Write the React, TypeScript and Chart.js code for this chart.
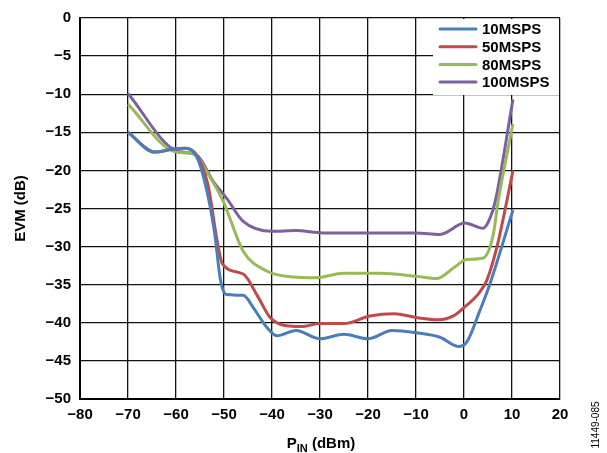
import React, { useEffect, useRef } from "react";
import { Chart, registerables } from "chart.js";

Chart.register(...registerables);

const seriesLabels = ["10MSPS", "50MSPS", "80MSPS", "100MSPS"];
const seriesColors = ["#4a7ebb", "#be4b48", "#98b954", "#7d60a0"];

const x10 = [-70, -64.4, -60.6, -58, -55.7, -54, -52, -50.7, -49.5, -46, -43.9, -41.1, -39, -35, -30, -25, -20, -15, -10, -5, -1.2, 0.6, 3.3, 5.4, 10.2];
const y10 = [-15, -17.6, -17.2, -17.1, -18.2, -21.5, -28, -34.5, -36.3, -36.4, -38, -40.6, -41.7, -41, -42.1, -41.5, -42.1, -41, -41.3, -41.9, -43.1, -42.5, -38.4, -34.9, -25.2];

const x50 = [-70, -64.4, -60.6, -58, -55.7, -53.3, -51.5, -50.3, -46, -43, -40.4, -37, -34, -30, -25, -19.6, -14.5, -10, -5.3, -2.2, 0, 3, 4.7, 6.8, 8.9, 10.2];
const y50 = [-15, -17.6, -17.2, -17.1, -18, -22, -29, -32.3, -33.6, -36.5, -39.3, -40.4, -40.5, -40.1, -40.1, -39.1, -38.8, -39.3, -39.6, -39.1, -38, -36.2, -34.5, -30.2, -24.1, -20];

const x80 = [-70, -60, -56.5, -53, -50.2, -46, -41.1, -35.6, -31, -25, -17.5, -10, -5.7, -2.2, 0.6, 4, 6.1, 7.1, 10.2];
const y80 = [-11.3, -17.6, -17.8, -20.8, -24, -30.6, -33.2, -34, -34.1, -33.5, -33.5, -33.9, -34.2, -32.8, -31.7, -31.5, -28.4, -24.1, -13.9];

const x100 = [-70, -60, -55.7, -52.2, -49.4, -46, -40, -35, -29.3, -20, -10, -5, 0.2, 4, 5.4, 6.5, 10.2];
const y100 = [-9.9, -17.4, -18, -21.5, -23.7, -26.7, -28, -27.9, -28.2, -28.2, -28.2, -28.4, -26.9, -27.6, -26.3, -24.1, -10.7];

const seriesX = [x10, x50, x80, x100];
const seriesY = [y10, y50, y80, y100];

const xMin = -80;
const xMax = 20;
const yMin = -50;
const yMax = 0;
const tickStepX = 10;
const tickStepY = 5;
const yTitle = "EVM (dB)";
const xTitleMain = "P";
const xTitleSub = "IN";
const xTitleRest = " (dBm)";
const figureId = "11449-085";

const FONT = "'Liberation Sans', Arial, sans-serif";

const fmt = (v: number) => (v < 0 ? "\u2212" + Math.abs(v) : String(v));

const overlayPlugin = {
  id: "overlay",
  afterDatasetsDraw(chart: any) {
    const ctx = chart.ctx as CanvasRenderingContext2D;
    const area = chart.chartArea;
    ctx.save();
    // legend box
    const boxL = 433;
    const boxT = area.top + 1;
    const boxR = area.right - 1;
    const boxB = 95;
    ctx.fillStyle = "#ffffff";
    ctx.fillRect(boxL, boxT, boxR - boxL, boxB - boxT);
    ctx.font = `bold 15px ${FONT}`;
    ctx.textBaseline = "middle";
    ctx.textAlign = "left";
    seriesLabels.forEach((lab, i) => {
      const yy = 29 + i * 17.7;
      ctx.strokeStyle = seriesColors[i];
      ctx.lineWidth = 3;
      ctx.lineCap = "round";
      ctx.beginPath();
      ctx.moveTo(440, yy);
      ctx.lineTo(476, yy);
      ctx.stroke();
      ctx.fillStyle = "#000";
      ctx.fillText(lab, 482, yy + 1);
    });
    ctx.restore();
  },
  afterDraw(chart: any) {
    const ctx = chart.ctx as CanvasRenderingContext2D;
    const area = chart.chartArea;
    ctx.save();
    // x title with subscript
    ctx.fillStyle = "#000";
    ctx.textBaseline = "alphabetic";
    ctx.textAlign = "left";
    const big = `bold 15px ${FONT}`;
    const small = `bold 11px ${FONT}`;
    ctx.font = big;
    const w1 = ctx.measureText(xTitleMain).width;
    const w3 = ctx.measureText(xTitleRest).width;
    ctx.font = small;
    const w2 = ctx.measureText(xTitleSub).width;
    const total = w1 + w2 + w3;
    const cx = (area.left + area.right) / 2 + 1;
    let x = cx - total / 2;
    const base = 448;
    ctx.font = big;
    ctx.fillText(xTitleMain, x, base);
    x += w1;
    ctx.font = small;
    ctx.fillText(xTitleSub, x, base + 4);
    x += w2;
    ctx.font = big;
    ctx.fillText(xTitleRest, x, base);
    // y title
    ctx.save();
    ctx.translate(21, (area.top + area.bottom) / 2);
    ctx.rotate(-Math.PI / 2);
    ctx.textAlign = "center";
    ctx.textBaseline = "middle";
    ctx.font = big;
    ctx.fillText(yTitle, 0, 0);
    ctx.restore();
    // figure id
    ctx.save();
    ctx.translate(596, 425);
    ctx.rotate(-Math.PI / 2);
    ctx.textAlign = "center";
    ctx.textBaseline = "middle";
    ctx.font = `10px ${FONT}`;
    ctx.fillText(figureId, 0, 0);
    ctx.restore();
    ctx.restore();
  },
};

export default function App() {
  const ref = useRef<HTMLCanvasElement | null>(null);
  useEffect(() => {
    document.body.style.margin = "0";
    const canvas = ref.current!;
    const datasets = seriesLabels.map((lab, i) => ({
      label: lab,
      data: seriesX[i].map((xv, j) => ({ x: xv, y: seriesY[i][j] })),
      borderColor: seriesColors[i],
      backgroundColor: seriesColors[i],
      borderWidth: 3,
      pointRadius: 0,
      tension: 0.4,
      cubicInterpolationMode: "monotone" as const,
      fill: false,
    }));
    const chart = new Chart(canvas, {
      type: "line",
      data: { datasets },
      plugins: [overlayPlugin],
      options: {
        animation: false,
        responsive: false,
        maintainAspectRatio: false,
        layout: { padding: { left: 0, right: 47, top: 15, bottom: 0 } },
        plugins: { legend: { display: false }, tooltip: { enabled: false } },
        scales: {
          x: {
            type: "linear",
            min: xMin,
            max: xMax,
            afterFit: (s: any) => {
              s.height = 54;
            },
            ticks: {
              stepSize: tickStepX,
              padding: 7,
              color: "#000",
              font: { family: FONT, size: 15, weight: "bold" },
              callback: (v: any) => fmt(Number(v)),
              maxRotation: 0,
            },
            grid: { color: "#111", lineWidth: 1.3, drawTicks: false },
            border: { color: "#000", width: 2 },
          },
          y: {
            type: "linear",
            min: yMin,
            max: yMax,
            afterFit: (s: any) => {
              s.width = 80;
            },
            ticks: {
              stepSize: tickStepY,
              padding: 9,
              color: "#000",
              font: { family: FONT, size: 15, weight: "bold" },
              callback: (v: any) => fmt(Number(v)),
            },
            grid: { color: "#111", lineWidth: 1.3, drawTicks: false },
            border: { color: "#000", width: 2 },
          },
        },
      },
    });
    return () => chart.destroy();
  }, []);
  return (
    <div style={{ width: 607, height: 453, background: "#fff" }}>
      <canvas ref={ref} width={607} height={453} style={{ display: "block" }} />
    </div>
  );
}
